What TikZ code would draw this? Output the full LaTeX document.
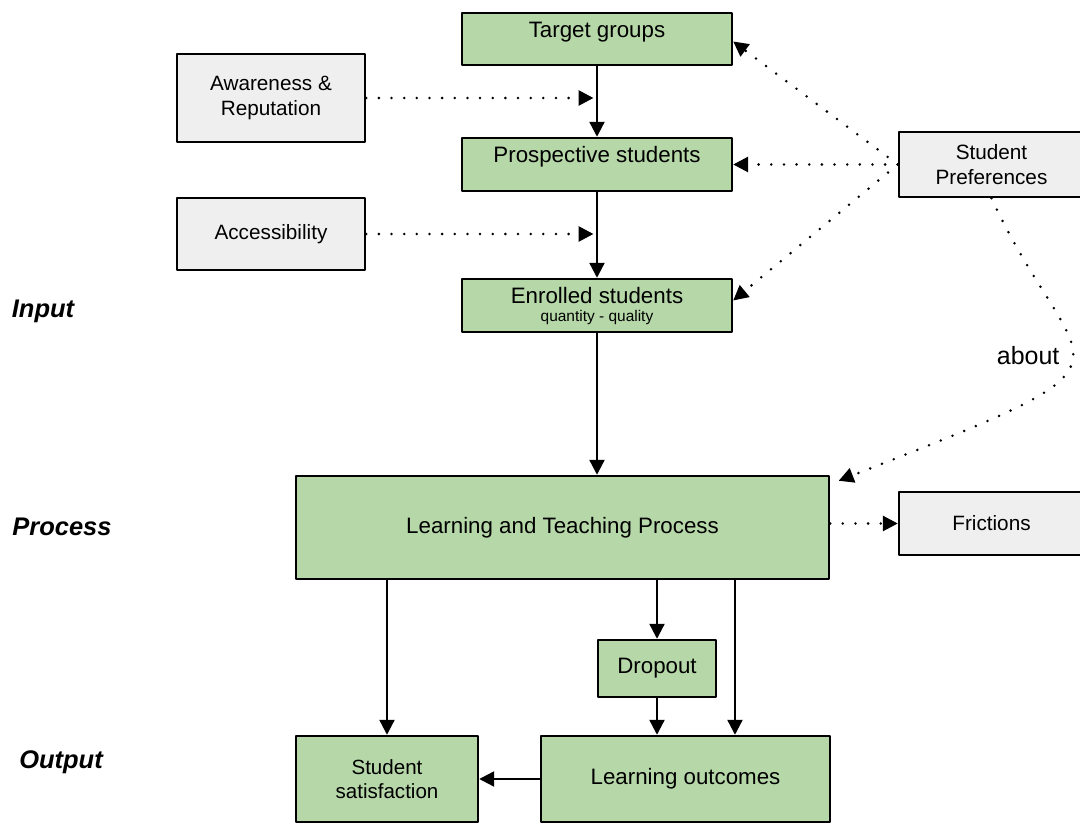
\documentclass[tikz,border=0pt]{standalone}
\usepackage{fontspec}
\setmainfont{Liberation Sans}
\usetikzlibrary{arrows.meta}
\definecolor{boxgreen}{HTML}{B6D7A8}
\definecolor{boxgray}{HTML}{EFEFEF}
\begin{document}
\begin{tikzpicture}[x=0.02cm, y=-0.02cm, >={Triangle[length=8.5pt,width=8.5pt]}, line join=round,
		greenbox/.style={draw, line width=1.4pt, fill=boxgreen, inner sep=0pt, align=center, font=\fontsize{12.7}{15}\selectfont},
		graybox/.style={draw, line width=1.4pt, fill=boxgray, inner sep=0pt, align=center, font=\fontsize{11.8}{14}\selectfont},
		boxtitle/.style={anchor=base, inner sep=0pt, font=\fontsize{12.7}{15}\selectfont},
		flow/.style={->, line width=1.3pt},
		dotline/.style={->, line width=1.6pt, line cap=round, dash pattern=on 0pt off 7.2pt},
		stage/.style={font=\fontsize{14.5}{17}\selectfont\bfseries\itshape}]
		\useasboundingbox (0,0) rectangle (1080,824);
		\clip (0,0) rectangle (1080,824);
		
		% input chain
		\node[greenbox, minimum width=5.4cm, minimum height=1.04cm] (tg) at (597,39) {};
		\node[greenbox, minimum width=5.4cm, minimum height=1.06cm] (ps) at (597,164.5) {};
		\node[greenbox, minimum width=5.4cm, minimum height=1.06cm] (es) at (597,305.5) {};
		\node[boxtitle] (tgt) at ([yshift=-0.52cm]tg.north) {Target groups};
		\node[boxtitle] (pst) at ([yshift=-0.52cm]ps.north) {Prospective students};
		\node[boxtitle] (est) at ([yshift=-0.52cm]es.north) {Enrolled students};
		\node[boxtitle, font=\fontsize{8.8}{10}\selectfont] (esq) at ([yshift=-0.88cm]es.north) {quantity - quality};
		
		\node[graybox, minimum width=3.76cm, minimum height=1.76cm] (ar) at (271,98) {Awareness \&\\Reputation};
		\node[graybox, minimum width=3.76cm, minimum height=1.44cm] (ac) at (271,234) {Accessibility};
		\node[graybox, minimum width=3.7cm, minimum height=1.3cm] (sp) at (991.5,164.5) {Student\\Preferences};
		
		% process and output
		\node[greenbox, minimum width=10.66cm, minimum height=2.06cm] (ltp) at (562.5,527.5) {Learning and Teaching Process};
		\node[graybox, minimum width=3.7cm, minimum height=1.26cm] (fr) at (991.5,523.5) {Frictions};
		\node[greenbox, minimum width=2.36cm, minimum height=1.14cm] (dr) at (657,668.5) {Dropout};
		\node[greenbox, minimum width=3.64cm, minimum height=1.72cm, font=\fontsize{11.7}{14}\selectfont] (ss) at (387,779) {Student\\satisfaction};
		\node[greenbox, minimum width=5.78cm, minimum height=1.72cm] (lo) at (685.5,779) {Learning outcomes};
		
		\node[stage] (inp) at (43,311) {Input};
		\node[stage] (prc) at (62,527) {Process};
		\node[stage] (out) at (61,762) {Output};
		
		\draw[flow] (tg) -- (ps);
		\draw[flow] (ps) -- (es);
		\draw[flow] (es.south) -- (es.south |- ltp.north);
		\draw[dotline] (ar.east) -- ([xshift=-2pt]ar.east -| tg.south);
		\draw[dotline] (ac.east) -- ([xshift=-2pt]ac.east -| ps.south);
		\draw[dotline] (sp.west) -- ([yshift=-0.05cm]tg.east);
		\draw[dotline] (sp.west) -- (ps.east);
		\draw[dotline] (sp.west) -- ([yshift=0.1cm]es.east);
		\draw[dotline] (sp.south) .. controls (1078,385) and (1168,352) .. ([xshift=0.17cm,yshift=-0.12cm]ltp.north east) node[pos=0.47, left=3pt, font=\fontsize{14.2}{17}\selectfont] (ab) {about};
		\draw[dotline] (ltp.east |- fr.west) -- (fr.west);
		
		\draw[flow] (ltp.south -| ss.north) -- (ss.north);
		\draw[flow] (dr.north |- ltp.south) -- (dr.north);
		\draw[flow] (dr.south) -- (dr.south |- lo.north);
		\draw[flow] ([xshift=0.99cm]lo.north |- ltp.south) -- ([xshift=0.99cm]lo.north);
		\draw[flow] (lo.west) -- (ss.east);
\end{tikzpicture}
\end{document}
